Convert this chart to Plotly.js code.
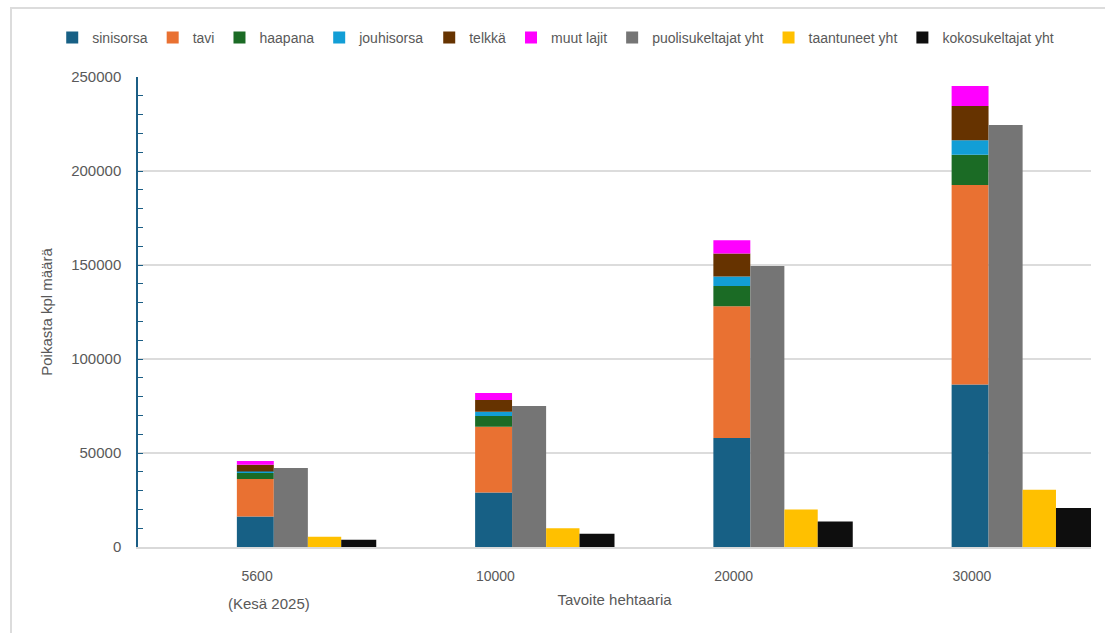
<!DOCTYPE html>
<html>
<head>
<meta charset="utf-8">
<script src="https://cdn.plot.ly/plotly-3.0.1.min.js"></script>
<style>
  html, body { margin: 0; padding: 0; background: #fff; }
  #wrap { position: relative; width: 1105px; height: 633px; }
  #chart { width: 1105px; height: 633px; }
  #frame { position: absolute; left: 10px; top: 7px; right: -5px; bottom: -5px;
           border-left: 2px solid #dcdcdc; border-top: 2px solid #dcdcdc; pointer-events: none; }
</style>
</head>
<body>
<div id="wrap"><div id="chart"></div><div id="frame"></div></div>
<script>
// Categories (target hectares)
const categories = ["5600", "10000", "20000", "30000"];
const categoryNote = "(Kesä 2025)";

// Stacked species (poikasta, kpl)
const sinisorsa   = [16200, 29000, 58000, 86500];
const tavi        = [20000, 35000, 70000, 106000];
const haapana     = [3200, 5700, 10800, 16200];
const jouhisorsa  = [700, 2300, 5100, 7600];
const telkka      = [3700, 6200, 12200, 18300];
const muutLajit   = [1900, 3700, 7100, 10600];

// Totals
const puolisukeltajatYht = [42000, 75000, 149500, 224500];
const taantuneetYht      = [5500, 10000, 20000, 30500];
const kokosukeltajatYht  = [3900, 7000, 13500, 20700];

const stackSeries = [
  {name: "sinisorsa",  y: sinisorsa,  color: "#176085"},
  {name: "tavi",       y: tavi,       color: "#e97132"},
  {name: "haapana",    y: haapana,    color: "#1b6b25"},
  {name: "jouhisorsa", y: jouhisorsa, color: "#129ed6"},
  {name: "telkkä",     y: telkka,     color: "#663300"},
  {name: "muut lajit", y: muutLajit,  color: "#ff00ff"}
];
const totalSeries = [
  {name: "puolisukeltajat yht", y: puolisukeltajatYht, color: "#757575", offset: 0.07,  width: 0.143},
  {name: "taantuneet yht",      y: taantuneetYht,      color: "#ffc000", offset: 0.213, width: 0.14},
  {name: "kokosukeltajat yht",  y: kokosukeltajatYht,  color: "#0e0e0e", offset: 0.353, width: 0.147}
];

const FONT = "Liberation Sans, Arial, sans-serif";
const GREY = "#595959";

const traces = [];
let base = categories.map(() => 0);
stackSeries.forEach(s => {
  traces.push({
    type: "bar", name: s.name, x: categories, y: s.y, base: base.slice(),
    offset: -0.085, width: 0.155,
    marker: {color: s.color, line: {width: 0}},
    hovertemplate: "%{x}: %{y}<extra>" + s.name + "</extra>"
  });
  base = base.map((b, i) => b + s.y[i]);
});
totalSeries.forEach(s => {
  traces.push({
    type: "bar", name: s.name, x: categories, y: s.y,
    offset: s.offset, width: s.width,
    marker: {color: s.color, line: {width: 0}},
    hovertemplate: "%{x}: %{y}<extra>" + s.name + "</extra>"
  });
});

const layout = {
  width: 1105, height: 633,
  margin: {l: 138, r: 14, t: 77, b: 86},
  paper_bgcolor: "rgba(0,0,0,0)", plot_bgcolor: "#fff",
  barmode: "overlay",
  font: {family: FONT, color: GREY, size: 14},
  showlegend: true,
  legend: {
    orientation: "h", xref: "paper", yref: "paper",
    x: -0.09, xanchor: "left", y: 1.083, yanchor: "middle",
    font: {family: FONT, size: 14, color: GREY},
    traceorder: "normal", itemclick: false, itemdoubleclick: false,
    tracegroupgap: 0, bgcolor: "rgba(0,0,0,0)"
  },
  xaxis: {
    type: "category", range: [-0.5, 3.5],
    showgrid: false, zeroline: false,
    showline: true, linecolor: "#d9d9d9", linewidth: 1.5,
    ticks: "outside", ticklen: 15, tickcolor: "rgba(0,0,0,0)",
    tickfont: {family: FONT, size: 14, color: GREY},
    title: {text: "Tavoite hehtaaria", font: {family: FONT, size: 15, color: GREY}, standoff: 12}
  },
  yaxis: {
    range: [0, 250000], dtick: 50000, tick0: 0,
    showgrid: true, gridcolor: "#dcdcdc", gridwidth: 1.5,
    zeroline: false,
    showline: true, linecolor: "#1b5e85", linewidth: 1.5,
    ticks: "inside", ticklen: 5, tickcolor: "#1b5e85", tickwidth: 1.2,
    minor: {dtick: 10000, ticks: "inside", ticklen: 5, tickcolor: "#1b5e85", tickwidth: 1.2, showgrid: false},
    tickformat: "d",
    ticklabelstandoff: 12,
    tickfont: {family: FONT, size: 15, color: GREY},
    title: {text: "Poikasta kpl määrä", font: {family: FONT, size: 15, color: GREY}, standoff: 15}
  },
  annotations: [{
    xref: "x", yref: "paper", x: 0, y: 0, yshift: -56,
    xshift: 12, text: categoryNote, showarrow: false,
    font: {family: FONT, size: 15, color: GREY}, yanchor: "middle"
  }]
};

Plotly.newPlot("chart", traces, layout, {displayModeBar: false});
</script>
</body>
</html>
